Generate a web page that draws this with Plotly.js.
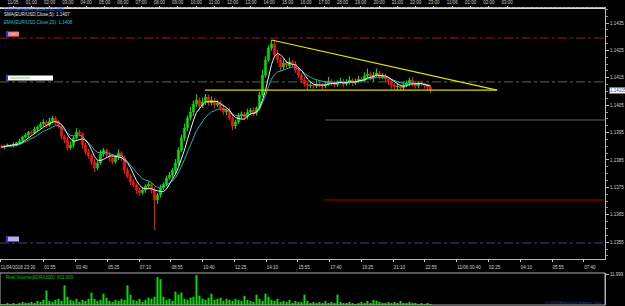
<!DOCTYPE html>
<html><head><meta charset="utf-8">
<script src="https://cdn.plot.ly/plotly-3.0.1.min.js"></script>
<style>html,body{margin:0;padding:0;background:#000;overflow:hidden}#chart{width:625px;height:306px}</style>
</head><body><div id="chart"></div>
<script>
// ---- data ----
const firstOpen = 1.13900;
const closes = [
1.13897,1.13901,1.13905,1.13901,1.13908,1.13912,1.13919,1.13934,1.13941,1.13952,
1.13948,1.13963,1.13970,1.13981,1.13989,1.13977,1.13992,1.14003,1.13989,1.13974,
1.13937,1.13923,1.13894,1.13905,1.13930,1.13952,1.13945,1.13905,1.13879,1.13865,
1.13843,1.13821,1.13839,1.13872,1.13886,1.13868,1.13857,1.13843,1.13861,1.13876,
1.13857,1.13813,1.13792,1.13770,1.13759,1.13740,1.13730,1.13740,1.13755,1.13762,
1.13740,1.13704,1.13722,1.13748,1.13762,1.13784,1.13795,1.13813,1.13839,1.13886,
1.13930,1.13967,1.14003,1.14025,1.14054,1.14069,1.14047,1.14062,1.14080,1.14058,
1.14069,1.14051,1.14058,1.14040,1.14025,1.14032,1.14003,1.13974,1.13989,1.14011,
1.14018,1.14007,1.14025,1.14032,1.14022,1.14040,1.14087,1.14160,1.14215,1.14259,
1.14273,1.14233,1.14215,1.14189,1.14204,1.14193,1.14208,1.14200,1.14178,1.14160,
1.14142,1.14127,1.14120,1.14124,1.14120,1.14127,1.14124,1.14120,1.14127,1.14138,
1.14131,1.14124,1.14135,1.14138,1.14127,1.14135,1.14142,1.14131,1.14138,1.14146,
1.14142,1.14157,1.14164,1.14149,1.14160,1.14168,1.14153,1.14157,1.14146,1.14135,
1.14124,1.14116,1.14120,1.14113,1.14124,1.14131,1.14142,1.14127,1.14120,1.14131,
1.14127,1.14120,1.14116,1.14105];
// wick lengths (1e-5 price units)
const upWick = [
6,4,5,3,6,4,8,5,7,4,6,9,5,8,10,6,12,9,7,5,
8,6,10,12,7,14,9,6,8,12,7,10,9,14,8,6,11,9,7,13,
6,8,10,7,9,5,8,11,6,9,7,10,8,12,6,9,11,8,14,10,
12,16,10,18,12,20,9,15,11,8,13,7,10,9,12,6,10,14,8,11,
9,7,12,8,10,6,12,20,14,10,15,12,18,10,14,9,16,8,11,10,
7,12,6,9,5,14,8,6,10,15,7,9,6,12,8,10,14,7,9,11,
8,13,20,9,11,16,7,10,8,6,9,7,10,6,12,9,8,11,7,6,
9,5,8,4];
const dnWick = [
5,7,4,6,5,8,4,6,5,9,6,4,7,5,8,10,6,7,12,9,
10,12,8,7,10,6,9,14,8,10,12,15,9,7,10,8,12,9,6,11,
10,14,9,12,8,15,11,7,10,9,12,110,14,10,8,9,7,10,12,9,
8,10,12,9,14,11,16,8,12,10,9,14,8,11,10,12,9,16,10,8,
12,10,9,7,12,10,8,6,9,7,10,8,12,14,9,11,8,12,10,9,
12,9,14,8,10,7,9,12,8,6,10,9,7,8,11,6,9,10,8,7,
9,6,10,8,12,7,9,8,10,12,14,9,11,10,8,9,12,10,9,8,
7,9,10,12];
const volumes = [
400,400,800,400,800,400,800,1200,800,800,
1200,800,1600,1200,2000,5600,1600,1200,2000,2400,
1600,7600,3200,2000,1600,2400,1200,2000,1600,2400,
4800,2400,1600,2000,4400,2800,1600,1200,2000,1600,
2400,2000,7600,4000,2000,1600,2400,1200,2000,2800,
2400,3200,10800,10000,3200,2000,2400,1600,5200,4000,
4800,2400,2000,2800,3200,11600,3600,2400,2000,2800,
4400,2000,2400,2800,1600,2400,2000,1600,2400,2000,
1600,3600,2000,1600,1200,4000,2400,1600,4400,3200,
2000,1600,2400,1200,1600,1200,2000,800,1600,1200,
1200,4000,1600,800,1200,800,1200,800,1600,800,
1200,800,4000,1200,800,800,1200,800,400,800,
1200,800,1600,800,2000,1600,1200,800,800,1200,
800,1200,800,1600,800,800,1200,800,800,400,
800,400,800,400];
const hourLabels = ["11/05","01:00","02:00","03:00","04:00","05:00","06:00","07:00","08:00","09:00","10:00","11:00","12:00","13:00","14:00","15:00","16:00","17:00","18:00","19:00","20:00","21:00","22:00","23:00","11/06","01:00","02:00","03:00"];
const timeLabels = ["11/04/2018 23:30","01:55","03:40","05:25","07:10","08:55","10:40","12:25","14:10","15:55","17:40","19:25","21:10","22:55","11/06 00:40","02:25","04:10","05:55","07:40"];
const timeMinutes = [0,145,250,355,460,565,670,775,880,985,1090,1195,1300,1405,1510,1615,1720,1825,1930];
const priceTicks = [1.1355,1.1365,1.1375,1.1385,1.1395,1.1405,1.1415,1.1425,1.1435];
const levelPrices = [1.14295,1.14135,1.13996,1.13704,1.13547];
const levelStartIdx = [-1,-1,107.8,107.8,-1];
const trendX = [90,165.2], trendY = [1.14288,1.14105];
const supportX = [67.8,165.2], supportY = [1.14105,1.14105];
const maText1 = "SMA(EUR/USD,Close,5): 1.1407";
const maText2 = "EMA(EUR/USD,Close,20): 1.1408";
const volText = "Real Volume(EUR/USD): 611.000";

// ---- derived ----
const n = closes.length;
const idx = closes.map((_,i)=>i);
const opens = closes.map((c,i)=> i===0 ? firstOpen : closes[i-1]);
const highs = closes.map((c,i)=> Math.max(opens[i],c) + upWick[i]*1e-5);
const lows  = closes.map((c,i)=> Math.min(opens[i],c) - dnWick[i]*1e-5);
const sma5 = closes.map((c,i)=>{ const a=closes.slice(Math.max(0,i-4),i+1); return a.reduce((s,v)=>s+v,0)/a.length; });
const ema = []; const k = 2/(10+1);
closes.forEach((c,i)=>{ ema.push(i===0?c:(c*k+ema[i-1]*(1-k))); });

// ---- geometry ----
const PX = 0.0000365; // price per pixel
const xEnd = 0.968;
const yMain = [1-259/306, 1-8/306];
const yVol = [1-305/306, 1-273/306];
const xRange = [-0.5, 201.17];
const hRange = [-13/18.3, 592/18.3];
const tRange = [0, 605*3.306];

const traces = [
 {type:'candlestick', x:idx, open:opens, high:highs, low:lows, close:closes, xaxis:'x', yaxis:'y',
  increasing:{line:{color:'#00e000',width:1}, fillcolor:'#00e000'},
  decreasing:{line:{color:'#ff1010',width:1}, fillcolor:'#ff1010'},
  whiskerwidth:0, hoverinfo:'skip'},
 {type:'scatter', mode:'lines', x:idx, y:ema, line:{color:'#20b4b4',width:1}, hoverinfo:'skip'},
 {type:'scatter', mode:'lines', x:idx, y:sma5, line:{color:'#f0f0f0',width:1}, hoverinfo:'skip'},
 {type:'scatter', mode:'lines', x:trendX, y:trendY, line:{color:'#e6e600',width:1.2}, hoverinfo:'skip'},
 {type:'scatter', mode:'lines', x:supportX, y:supportY, line:{color:'#d8d800',width:1.2}, hoverinfo:'skip'},
 {type:'bar', x:idx, y:volumes, xaxis:'x', yaxis:'y2', marker:{color:'#00e000', line:{width:0}}, hoverinfo:'skip'}
];

const levelStyles = [
 {color:'#9a1c1c', dash:'dashdot', width:1},
 {color:'#56683e', dash:'dashdot', width:1},
 {color:'#606060', dash:'solid', width:1},
 {color:'#b00000', dash:'solid', width:1},
 {color:'#5a3a70', dash:'dashdot', width:1}
];
const shapes = [];
levelPrices.forEach((p,i)=>{
  const st = levelStyles[i];
  shapes.push({type:'line', xref:'x', yref:'y', x0:levelStartIdx[i]<0?xRange[0]:levelStartIdx[i], x1:xRange[1], y0:p, y1:p, line:st, layer:'below'});
});
const boxes = [
 {lvl:0, x1:19, fill:'#f08080'},
 {lvl:1, x1:53, fill:'#ffffff'},
 {lvl:4, x1:19, fill:'#b8b0ea'}
];
boxes.forEach(b=>{
  const p = levelPrices[b.lvl];
  shapes.push({type:'rect', xref:'paper', yref:'y', x0:6/625, x1:b.x1/625, y0:p+1.5*PX, y1:p+6.5*PX, fillcolor:b.fill, line:{width:0}});
  shapes.push({type:'rect', xref:'paper', yref:'y', x0:6/625, x1:8/625, y0:p+1.5*PX, y1:p+6.5*PX, fillcolor:'#2828ff', line:{width:0}});
});
shapes.push({type:'rect', xref:'paper', yref:'y', x0:10/625, x1:30/625, y0:levelPrices[1]+3*PX, y1:levelPrices[1]+5*PX, fillcolor:'#c8e0c0', line:{width:0}});
shapes.push({type:'rect', xref:'paper', yref:'y', x0:10/625, x1:17/625, y0:levelPrices[0]+3*PX, y1:levelPrices[0]+5*PX, fillcolor:'#e0a0a0', line:{width:0}});
shapes.push({type:'rect', xref:'paper', yref:'paper', x0:0, x1:xEnd, y0:yVol[0], y1:yVol[1], line:{color:'#b0b0b0',width:1}, fillcolor:'rgba(0,0,0,0)'});

const F = 'Liberation Sans, Arial, sans-serif';
const last = closes[n-1];
const annotations = [
 {xref:'paper', yref:'paper', x:2/625, y:1-10/306, xanchor:'left', yanchor:'middle', text:'Commentaires (EURUSD,M5)', showarrow:false, font:{family:F,size:4.5,color:'#4a6af0'}},
 {xref:'paper', yref:'paper', x:2/625, y:1-14.5/306, xanchor:'left', yanchor:'middle', text:maText1, showarrow:false, font:{family:F,size:4.5,color:'#e8e8e8'}},
 {xref:'paper', yref:'paper', x:2/625, y:1-22.5/306, xanchor:'left', yanchor:'middle', text:maText2, showarrow:false, font:{family:F,size:4.5,color:'#20c0c0'}},
 {xref:'paper', yref:'paper', x:4/625, y:1-277.5/306, xanchor:'left', yanchor:'middle', text:volText, showarrow:false, font:{family:F,size:4.5,color:'#00c000'}},
 {xref:'paper', yref:'paper', x:604/625, y:1-302.5/306, xanchor:'right', yanchor:'middle', text:'(c) 2018 MetaQuotes Software Corp.', showarrow:false, font:{family:F,size:3.5,color:'#3040b0'}},
 {xref:'paper', yref:'y', x:609/625, y:last, xanchor:'left', yanchor:'middle', text:last.toFixed(5), showarrow:false, bgcolor:'#ffffff', bordercolor:'#3050d0', borderwidth:0.6, borderpad:0.5, font:{family:F,size:4.5,color:'#2040a0'}}
];

const axisFont = {family:F, size:4.5, color:'#d0d0d0'};
const layout = {
  width:625, height:306, margin:{l:0,r:0,t:0,b:0},
  paper_bgcolor:'#000', plot_bgcolor:'#000', showlegend:false, bargap:0.35,
  xaxis:{domain:[0,xEnd], range:xRange, anchor:'y', showticklabels:false, ticks:'', showgrid:false, zeroline:false,
         showline:true, mirror:true, linecolor:'#b8b8b8', linewidth:1, rangeslider:{visible:false}, fixedrange:true},
  yaxis:{domain:yMain, range:[1.1435-236*PX, 1.1435+15*PX], side:'right', anchor:'x',
         tickvals:priceTicks, ticktext:priceTicks.map(v=>v.toFixed(4)), tickfont:axisFont,
         ticks:'outside', ticklen:3, tickcolor:'#b8b8b8', showgrid:false, zeroline:false,
         showline:true, linecolor:'#b8b8b8', linewidth:1,
         minor:{ticks:'outside', ticklen:1.5, tickcolor:'#909090', dtick:0.00025}},
  yaxis2:{domain:yVol, range:[0,12400], side:'right', anchor:'x', tickvals:[11999], ticktext:['11.999'],
          tickfont:axisFont, ticks:'outside', ticklen:3, tickcolor:'#b8b8b8', showgrid:false, zeroline:false,
          showline:true, linecolor:'#b8b8b8'},
  xaxis2:{domain:[0,xEnd], overlaying:'x', side:'top', anchor:'free', position:yMain[1], range:hRange,
          tickvals:hourLabels.map((_,i)=>i), ticktext:hourLabels, tickfont:axisFont,
          ticks:'outside', ticklen:2, tickcolor:'#d0d0d0', showgrid:false, zeroline:false,
          showline:true, linecolor:'#d8d8d8', linewidth:1,
          minor:{ticks:'outside', ticklen:1, tickcolor:'#909090', dtick:0.25}},
  xaxis3:{domain:[0,xEnd], overlaying:'x', side:'bottom', anchor:'free', position:yMain[0], range:tRange,
          tickvals:timeMinutes, ticktext:timeLabels, tickfont:axisFont, ticklabelposition:'outside right',
          ticklabelstandoff:4,
          ticks:'outside', ticklen:2, tickcolor:'#d0d0d0', showgrid:false, zeroline:false, showline:false},
  shapes:shapes, annotations:annotations
};
traces.push({type:'scatter', x:[hRange[0]], y:[null], xaxis:'x2', yaxis:'y', hoverinfo:'skip'});
traces.push({type:'scatter', x:[tRange[0]], y:[null], xaxis:'x3', yaxis:'y', hoverinfo:'skip'});
Plotly.newPlot('chart', traces, layout, {staticPlot:true, displayModeBar:false});
</script></body></html>
